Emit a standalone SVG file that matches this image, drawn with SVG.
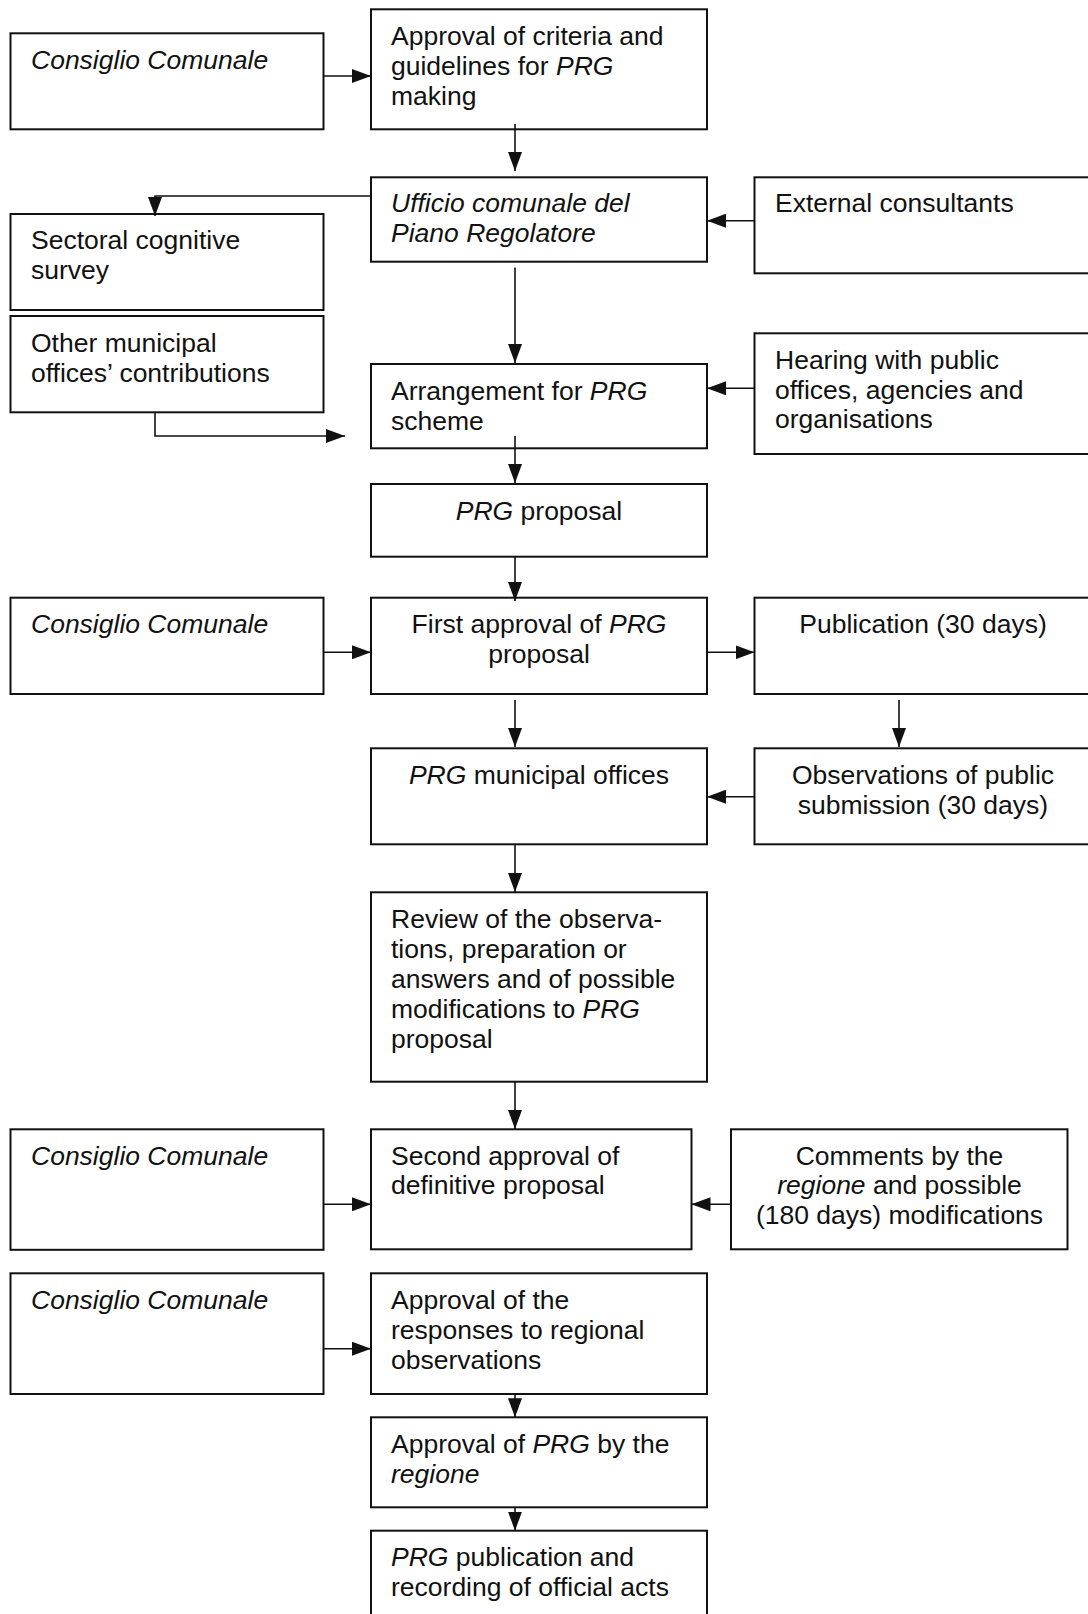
<svg xmlns="http://www.w3.org/2000/svg" width="1088" height="1614" viewBox="0 0 1088 1614">
<style>
  .box { fill: #fff; stroke: #111; stroke-width: 2; }
  .t { font-family: "Liberation Sans", Arial, sans-serif; font-size: 26.5px; fill: #111; }
  .c { text-anchor: middle; }
  .i { font-style: italic; }
  .conn { fill: none; stroke: #111; stroke-width: 1.6; marker-end: url(#ah); }
</style>
<defs>
  <marker id="ah" markerUnits="userSpaceOnUse" markerWidth="19" markerHeight="14" refX="19" refY="7" orient="auto">
    <path d="M0,0 L19,7 L0,14 z" fill="#111"/>
  </marker>
</defs>
<rect width="1088" height="1614" fill="#fff"/>

<g id="n-cc1"><rect class="box" x="10.5" y="33.3" width="313" height="96"/>
  <text class="t i" x="31" y="69">Consiglio Comunale</text></g>
<g id="n-approval-criteria"><rect class="box" x="371" y="9.3" width="336" height="120"/>
  <text class="t" x="391" y="45">Approval of criteria and</text>
  <text class="t" x="391" y="75">guidelines for <tspan class="i">PRG</tspan></text>
  <text class="t" x="391" y="105">making</text></g>
<g id="n-ufficio"><rect class="box" x="371" y="177.3" width="336" height="84.4"/>
  <text class="t i" x="391" y="212">Ufficio comunale del</text>
  <text class="t i" x="391" y="242">Piano Regolatore</text></g>
<g id="n-external"><rect class="box" x="754.5" y="177.3" width="340" height="96"/>
  <text class="t" x="775" y="212">External consultants</text></g>
<g id="n-sectoral"><rect class="box" x="10.5" y="214" width="313" height="96"/>
  <text class="t" x="31" y="249">Sectoral cognitive</text>
  <text class="t" x="31" y="279">survey</text></g>
<g id="n-other"><rect class="box" x="10.5" y="316" width="313" height="96.3"/>
  <text class="t" x="31" y="351.5">Other municipal</text>
  <text class="t" x="31" y="381.5">offices’ contributions</text></g>
<g id="n-arrangement"><rect class="box" x="371" y="364" width="336" height="84.3"/>
  <text class="t" x="391" y="400">Arrangement for <tspan class="i">PRG</tspan></text>
  <text class="t" x="391" y="430">scheme</text></g>
<g id="n-hearing"><rect class="box" x="754.5" y="333.3" width="340" height="120.7"/>
  <text class="t" x="775" y="368.5">Hearing with public</text>
  <text class="t" x="775" y="398.5">offices, agencies and</text>
  <text class="t" x="775" y="428">organisations</text></g>
<g id="n-prg-proposal"><rect class="box" x="371" y="484" width="336" height="72.7"/>
  <text class="t c" x="539" y="520"><tspan class="i">PRG</tspan> proposal</text></g>
<g id="n-cc2"><rect class="box" x="10.5" y="597.7" width="313" height="96.3"/>
  <text class="t i" x="31" y="633">Consiglio Comunale</text></g>
<g id="n-first-approval"><rect class="box" x="371" y="597.7" width="336" height="96.3"/>
  <text class="t c" x="539" y="633">First approval of <tspan class="i">PRG</tspan></text>
  <text class="t c" x="539" y="663">proposal</text></g>
<g id="n-publication"><rect class="box" x="754.5" y="597.7" width="340" height="96.3"/>
  <text class="t c" x="923" y="633">Publication (30 days)</text></g>
<g id="n-prg-municipal"><rect class="box" x="371" y="748.3" width="336" height="96"/>
  <text class="t c" x="539" y="783.5"><tspan class="i">PRG</tspan> municipal offices</text></g>
<g id="n-observations"><rect class="box" x="754.5" y="748.3" width="340" height="96"/>
  <text class="t c" x="923" y="783.5">Observations of public</text>
  <text class="t c" x="923" y="813.5">submission (30 days)</text></g>
<g id="n-review"><rect class="box" x="371" y="892.3" width="336" height="189.4"/>
  <text class="t" x="391" y="927.5">Review of the observa-</text>
  <text class="t" x="391" y="957.5">tions, preparation or</text>
  <text class="t" x="391" y="987.5">answers and of possible</text>
  <text class="t" x="391" y="1017.5">modifications to <tspan class="i">PRG</tspan></text>
  <text class="t" x="391" y="1047.5">proposal</text></g>
<g id="n-cc3"><rect class="box" x="10.5" y="1129.3" width="313" height="120.5"/>
  <text class="t i" x="31" y="1165">Consiglio Comunale</text></g>
<g id="n-second-approval"><rect class="box" x="371" y="1129.3" width="320.5" height="120"/>
  <text class="t" x="391" y="1164.5">Second approval of</text>
  <text class="t" x="391" y="1194">definitive proposal</text></g>
<g id="n-comments"><rect class="box" x="731" y="1129.3" width="336.5" height="120"/>
  <text class="t c" x="899.5" y="1164.5">Comments by the</text>
  <text class="t c" x="899.5" y="1194"><tspan class="i">regione</tspan> and possible</text>
  <text class="t c" x="899.5" y="1224">(180 days) modifications</text></g>
<g id="n-cc4"><rect class="box" x="10.5" y="1273.3" width="313" height="120.7"/>
  <text class="t i" x="31" y="1309">Consiglio Comunale</text></g>
<g id="n-approval-responses"><rect class="box" x="371" y="1273.3" width="336" height="120.7"/>
  <text class="t" x="391" y="1308.5">Approval of the</text>
  <text class="t" x="391" y="1338.5">responses to regional</text>
  <text class="t" x="391" y="1368.5">observations</text></g>
<g id="n-approval-prg"><rect class="box" x="371" y="1417.3" width="336" height="90"/>
  <text class="t" x="391" y="1453">Approval of <tspan class="i">PRG</tspan> by the</text>
  <text class="t i" x="391" y="1483">regione</text></g>
<g id="n-prg-publication"><rect class="box" x="371" y="1530.7" width="336" height="100"/>
  <text class="t" x="391" y="1566"><tspan class="i">PRG</tspan> publication and</text>
  <text class="t" x="391" y="1596">recording of official acts</text></g>

<g id="connectors">
  <path class="conn" d="M323.5,76 H371"/>
  <path class="conn" d="M515,124 V171"/>
  <path class="conn" d="M371,196 H155 V216"/>
  <path class="conn" d="M754.5,220.7 H707"/>
  <path class="conn" d="M515,267.5 V363"/>
  <path class="conn" d="M754.5,388.3 H707"/>
  <path class="conn" d="M155,412.3 V436 H345"/>
  <path class="conn" d="M515,436 V483"/>
  <path class="conn" d="M515,556.7 V601"/>
  <path class="conn" d="M323.5,652.3 H371"/>
  <path class="conn" d="M707,652.3 H754.5"/>
  <path class="conn" d="M515,700 V747"/>
  <path class="conn" d="M899,700 V747"/>
  <path class="conn" d="M754.5,796.7 H707"/>
  <path class="conn" d="M515,844.3 V892"/>
  <path class="conn" d="M515,1081.7 V1129"/>
  <path class="conn" d="M323.5,1204.3 H371"/>
  <path class="conn" d="M731,1204.3 H691.5"/>
  <path class="conn" d="M323.5,1348.7 H371"/>
  <path class="conn" d="M515,1394 V1417.3"/>
  <path class="conn" d="M515,1507.3 V1530.7"/>
</g>
</svg>
